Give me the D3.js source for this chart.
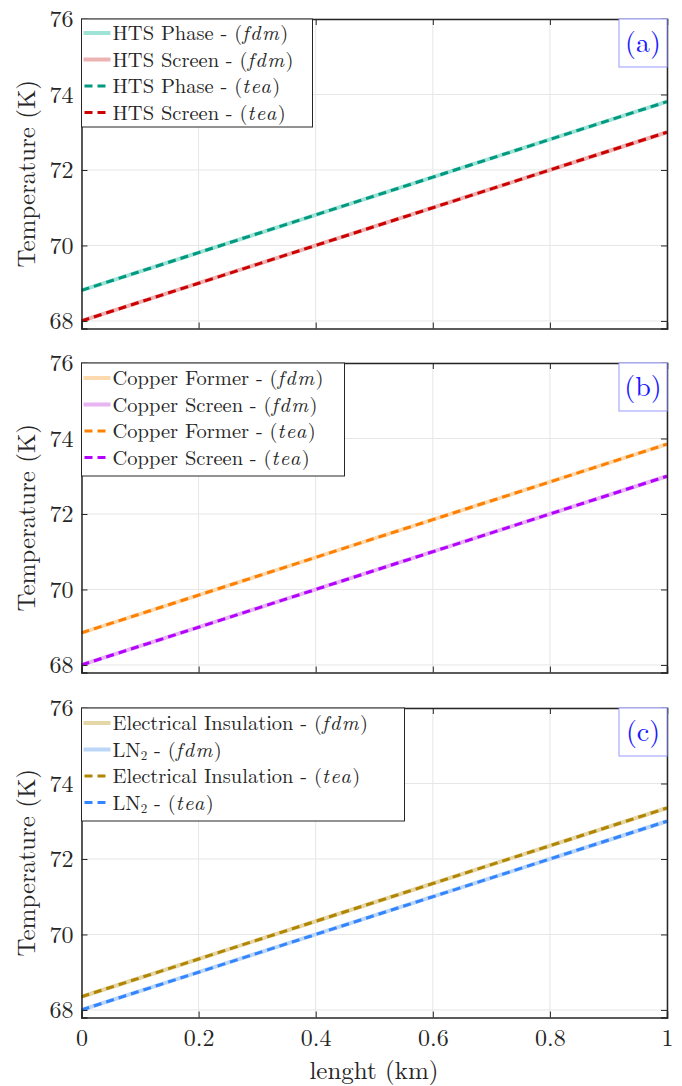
<!DOCTYPE html>
<html>
<head>
<meta charset="utf-8">
<script src="https://cdn.jsdelivr.net/npm/d3@7"></script>
<style>
  body { margin: 0; background: #fff; }
  svg text { font-family: "Latin Modern Roman", "CMU Serif", "Liberation Serif", serif; fill: #262626; }
</style>
</head>
<body>
<svg id="chart" width="682" height="1086"></svg>
<script>
// data
var lengthKm = [0, 0.2, 0.4, 0.6, 0.8, 1];
var xTicks = [0, 0.2, 0.4, 0.6, 0.8, 1];
var yTicks = [68, 70, 72, 74, 76];

var htsPhaseFdm = [68.81, 69.81, 70.81, 71.81, 72.81, 73.81];
var htsScreenFdm = [68.0, 69.0, 70.0, 71.0, 72.0, 73.0];
var htsPhaseTea = [68.81, 69.81, 70.81, 71.81, 72.81, 73.81];
var htsScreenTea = [68.0, 69.0, 70.0, 71.0, 72.0, 73.0];

var cuFormerFdm = [68.85, 69.85, 70.85, 71.85, 72.85, 73.85];
var cuScreenFdm = [68.0, 69.0, 70.0, 71.0, 72.0, 73.0];
var cuFormerTea = [68.85, 69.85, 70.85, 71.85, 72.85, 73.85];
var cuScreenTea = [68.0, 69.0, 70.0, 71.0, 72.0, 73.0];

var insFdm = [68.35, 69.35, 70.35, 71.35, 72.35, 73.35];
var ln2Fdm = [68.0, 69.0, 70.0, 71.0, 72.0, 73.0];
var insTea = [68.35, 69.35, 70.35, 71.35, 72.35, 73.35];
var ln2Tea = [68.0, 69.0, 70.0, 71.0, 72.0, 73.0];

var panels = [
  { tag: "(a)", top: 19, legendW: 231, series: [
    { name: "HTS Phase", m: "fdm", v: htsPhaseFdm, c: "#9ee3d6", dash: false },
    { name: "HTS Screen", m: "fdm", v: htsScreenFdm, c: "#edb3b3", dash: false },
    { name: "HTS Phase", m: "tea", v: htsPhaseTea, c: "#00997f", dash: true },
    { name: "HTS Screen", m: "tea", v: htsScreenTea, c: "#cc0000", dash: true }
  ]},
  { tag: "(b)", top: 363, legendW: 263, series: [
    { name: "Copper Former", m: "fdm", v: cuFormerFdm, c: "#fdd9b0", dash: false },
    { name: "Copper Screen", m: "fdm", v: cuScreenFdm, c: "#e6b5f2", dash: false },
    { name: "Copper Former", m: "tea", v: cuFormerTea, c: "#ff8000", dash: true },
    { name: "Copper Screen", m: "tea", v: cuScreenTea, c: "#b300ff", dash: true }
  ]},
  { tag: "(c)", top: 708, legendW: 323, series: [
    { name: "Electrical Insulation", m: "fdm", v: insFdm, c: "#e5d6a8", dash: false },
    { name: "LN", sub: "2", m: "fdm", v: ln2Fdm, c: "#bcd6f7", dash: false },
    { name: "Electrical Insulation", m: "tea", v: insTea, c: "#b08600", dash: true },
    { name: "LN", sub: "2", m: "tea", v: ln2Tea, c: "#3385ff", dash: true }
  ]}
];

var svg = d3.select("#chart");
var left = 81.5, right = 667, ph = 309.5;
var serif = "Latin Modern Roman, CMU Serif, Liberation Serif, serif";

var x = d3.scaleLinear().domain([0, 1]).range([left, right]);

panels.forEach(function (p, pi) {
  var y = d3.scaleLinear().domain([67.8, 76]).range([p.top + ph, p.top]);
  var g = svg.append("g");

  // grid
  g.selectAll(".gx").data(xTicks).enter().append("line")
    .attr("x1", function (d) { return x(d); }).attr("x2", function (d) { return x(d); })
    .attr("y1", p.top).attr("y2", p.top + ph)
    .attr("stroke", "#e6e6e6").attr("stroke-width", 1);
  g.selectAll(".gy").data(yTicks).enter().append("line")
    .attr("x1", left).attr("x2", right)
    .attr("y1", function (d) { return y(d); }).attr("y2", function (d) { return y(d); })
    .attr("stroke", "#e6e6e6").attr("stroke-width", 1);

  // lines
  var line = d3.line()
    .x(function (d, i) { return x(lengthKm[i]); })
    .y(function (d) { return y(d); });
  p.series.forEach(function (s) {
    g.append("path")
      .attr("d", line(s.v))
      .attr("fill", "none")
      .attr("stroke", s.c)
      .attr("stroke-width", s.dash ? 3 : 4)
      .attr("stroke-dasharray", s.dash ? "8,5" : null);
  });

  // axes with inward ticks
  var axL = d3.axisLeft(y).tickValues(yTicks).tickSize(-6).tickPadding(8);
  var axR = d3.axisRight(y).tickValues(yTicks).tickSize(-6).tickFormat("");
  var axB = d3.axisBottom(x).tickValues(xTicks).tickSize(-6).tickPadding(11)
    .tickFormat(function (d) { return d === 0 || d === 1 ? d : d3.format(".1f")(d); });
  var axT = d3.axisTop(x).tickValues(xTicks).tickSize(-6).tickFormat("");

  var gl = g.append("g").attr("transform", "translate(" + left + ",0)").call(axL);
  g.append("g").attr("transform", "translate(" + right + ",0)").call(axR);
  var gb = g.append("g").attr("transform", "translate(0," + (p.top + ph) + ")").call(axB);
  g.append("g").attr("transform", "translate(0," + p.top + ")").call(axT);

  g.selectAll(".domain").attr("stroke", "#262626").attr("stroke-width", 1.5);
  g.selectAll(".tick line").attr("stroke", "#262626");
  gl.selectAll("text").attr("font-size", 24).attr("fill", "#262626").attr("font-family", serif);
  if (pi < 2) gb.selectAll("text").remove();
  else gb.selectAll("text").attr("font-size", 24).attr("fill", "#262626").attr("font-family", serif);

  // y label
  svg.append("text")
    .attr("transform", "translate(35," + (p.top + ph / 2) + ") rotate(-90)")
    .attr("text-anchor", "middle")
    .attr("font-size", 25)
    .text("Temperature (K)");

  // legend
  var lg = svg.append("g").attr("transform", "translate(" + left + "," + p.top + ")");
  lg.append("rect").attr("width", p.legendW).attr("height", 108 + (pi === 0 ? 0 : 5))
    .attr("fill", "#fff").attr("stroke", "#262626").attr("stroke-width", 1);
  p.series.forEach(function (s, i) {
    var yy = 14 + i * 26.5 + (pi === 0 ? 0 : 1);
    lg.append("line").attr("x1", 2).attr("x2", 29).attr("y1", yy).attr("y2", yy)
      .attr("stroke", s.c).attr("stroke-width", s.dash ? 3 : 4)
      .attr("stroke-dasharray", s.dash ? "8,5" : null)
      .attr("stroke-dashoffset", s.dash ? -1 : 0);
    var t = lg.append("text").attr("x", 31).attr("y", yy + 7).attr("font-size", 20.5);
    t.append("tspan").text(s.name);
    if (s.sub) t.append("tspan").attr("font-size", 13).attr("dy", 3).text(s.sub);
    t.append("tspan").attr("dy", s.sub ? -3 : null).text(" - (");
    t.append("tspan").attr("font-style", "italic").attr("letter-spacing", 1.5).text(s.m);
    t.append("tspan").text(")");
  });

  // panel tag
  svg.append("rect").attr("x", 619).attr("y", p.top).attr("width", 48).attr("height", 48)
    .attr("fill", "#fff").attr("stroke", "#9999ff").attr("stroke-width", 1);
  svg.append("text").attr("x", 643).attr("y", p.top + 33).attr("text-anchor", "middle")
    .attr("font-size", 28).style("fill", "#1a1aff").text(p.tag);
});

svg.append("text").attr("x", 374).attr("y", 1079).attr("text-anchor", "middle")
  .attr("font-size", 25).text("lenght (km)");
</script>
</body>
</html>
